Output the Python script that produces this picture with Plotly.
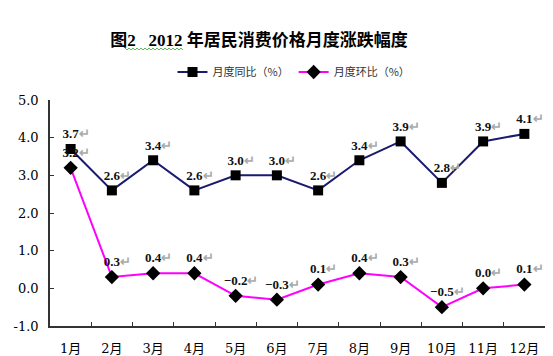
import plotly.graph_objects as go

months = ["1月", "2月", "3月", "4月", "5月", "6月", "7月", "8月", "9月", "10月", "11月", "12月"]
yoy = [3.7, 2.6, 3.4, 2.6, 3.0, 3.0, 2.6, 3.4, 3.9, 2.8, 3.9, 4.1]
mom = [3.2, 0.3, 0.4, 0.4, -0.2, -0.3, 0.1, 0.4, 0.3, -0.5, 0.0, 0.1]
ytick_vals = [-1, 0, 1, 2, 3, 4, 5]
ytick_text = ["-1.0", "0.0", "1.0", "2.0", "3.0", "4.0", "5.0"]
title_text = "<b>图2&nbsp;&nbsp; 2012 年居民消费价格月度涨跌幅度</b>"
name_yoy = "月度同比（%）"
name_mom = "月度环比（%）"

W, H = 553, 356
L, R, T, B = 50, 8, 100, 30


def lab(v):
    s = f"{v:.1f}".replace("-", "−")
    return ("<span style='color:rgba(0,0,0,0)'>↵</span>" + s +
            "<span style='color:#aaaaaa'>↵</span>")


lab_font = dict(family="Liberation Serif, Noto Sans CJK SC", size=13, color="#111111", weight="bold")

fig = go.Figure()
fig.add_trace(go.Scatter(
    x=months, y=yoy, name=name_yoy, mode="lines+markers+text",
    line=dict(color="#1a1a6e", width=2),
    marker=dict(symbol="square", size=10, color="#000000"),
    text=[lab(v) for v in yoy], textposition="top center",
    textfont=lab_font, cliponaxis=False,
))
fig.add_trace(go.Scatter(
    x=months, y=mom, name=name_mom, mode="lines+markers+text",
    line=dict(color="#ff00ff", width=2),
    marker=dict(symbol="diamond", size=11, color="#000000"),
    text=[lab(v) for v in mom], textposition="top center",
    textfont=lab_font, cliponaxis=False,
))


def px2paper(px, py):
    return (px - L) / (W - L - R), (H - B - py) / (H - T - B)


# wavy spell-check underline under "2  2012" in the title
pts = []
i = 0
while 125 + i * 2 <= 184:
    pts.append(px2paper(125 + i * 2, 48 if i % 2 == 0 else 50))
    i += 1
path = "M " + " L ".join(f"{a:.4f},{b:.4f}" for a, b in pts)

fig.update_layout(
    template="none",
    width=W, height=H,
    margin=dict(l=L, r=R, t=T, b=B, autoexpand=False),
    paper_bgcolor="white", plot_bgcolor="white",
    font=dict(family="DejaVu Serif, Noto Sans CJK SC", size=12, color="#000000"),
    title=dict(text=title_text, x=259 / W, xanchor="center", y=1 - 40 / H, yanchor="middle",
               font=dict(family="Liberation Serif, Noto Sans CJK SC", size=17, color="#000000")),
    showlegend=True,
    legend=dict(orientation="h", x=px2paper(294, 0)[0], xanchor="center",
                y=px2paper(0, 72)[1], yanchor="middle",
                font=dict(family="Noto Sans CJK SC", size=11, color="#333333"),
                itemwidth=30, tracegroupgap=0, bgcolor="rgba(0,0,0,0)"),
    shapes=[dict(type="path", path=path, xref="paper", yref="paper",
                 line=dict(color="#5cb85c", width=1))],
)
fig.update_xaxes(
    type="category", range=[-0.5, len(months) - 0.5],
    showline=True, linecolor="#333333", linewidth=1.5,
    ticks="inside", ticklen=4, tickcolor="#333333", tickwidth=1, tickson="boundaries",
    showgrid=False, zeroline=False, automargin=False,
    tickfont=dict(family="DejaVu Serif, Noto Sans CJK SC", size=13, color="#000000"),
    ticklabelstandoff=10,
)
fig.update_yaxes(
    range=[-1, 5], tickvals=ytick_vals, ticktext=ytick_text,
    showline=True, linecolor="#333333", linewidth=1.5,
    ticks="inside", ticklen=4, tickcolor="#333333", tickwidth=1,
    showgrid=False, zeroline=False, automargin=False,
    tickfont=dict(family="DejaVu Serif, Noto Sans CJK SC", size=13, color="#000000"),
    ticklabelstandoff=7,
)

fig.write_html(
    "out.html",
    config={"displayModeBar": False},
    post_script="document.body.style.margin='0';document.body.style.padding='0';",
)
